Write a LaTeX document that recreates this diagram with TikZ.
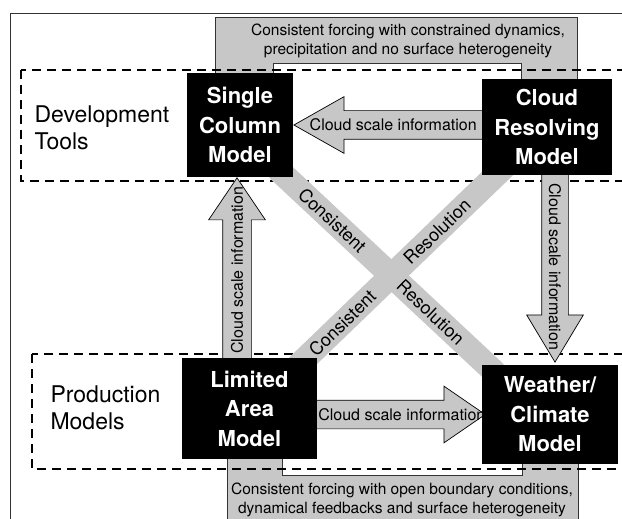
\documentclass[tikz,border=0pt]{standalone}
\usepackage{fontspec}
\setmainfont{TeX Gyre Heros}
\usetikzlibrary{shapes.arrows,calc,backgrounds}

\begin{document}
\begin{tikzpicture}[x=1pt,y=-1pt,
    model/.style={fill=black,text=white,align=center,inner sep=0pt,
        font=\fontsize{22}{29.5}\selectfont\bfseries},
    group/.style={draw=black,line width=1.8pt,dash pattern=on 9pt off 6pt},
    grouptext/.style={align=left,anchor=west,font=\fontsize{23}{27}\selectfont},
    forcing/.style={draw=black!80,fill=black!22,line width=0.7pt},
    note/.style={align=center,font=\fontsize{15.5}{19}\selectfont},
    band/.style={draw=black!22,line width=24pt,shorten <=-12pt,shorten >=-12pt},
    bandtext/.style={sloped,font=\fontsize{18}{18}\selectfont},
    fatarrow/.style={single arrow,draw=black,fill=black!22,line width=0.7pt,
        single arrow head extend=14pt,single arrow head indent=0pt,
        inner xsep=2pt,inner ysep=8.5pt,text height=11pt,text depth=0pt},
    arrowtext/.style={inner sep=0pt,font=\fontsize{16}{16}\selectfont}]

\useasboundingbox (0,0) rectangle (622,519);

% the four models
\node[model,minimum width=106pt,minimum height=104pt] (scm) at (240,125) {Single\\Column\\Model};
\node[model,minimum width=130pt,minimum height=96pt] (crm) at (547,127) {Cloud\\Resolving\\Model};
\node[model,minimum width=135pt,minimum height=101pt] (lam) at (249.5,408.5) {Limited\\Area\\Model};
\node[model,minimum width=136pt,minimum height=99pt] (wcm) at (550,414.5) {Weather/\\Climate\\Model};

\node[grouptext] (devtools) at (31,128) {Development\\Tools};
\node[grouptext] (prodmodels) at (47,408) {Production\\Models};

\begin{scope}[on background layer]
  \draw[black!80,line width=0.9pt] (10,13) rectangle (640,540);

  % forcing above and below
  \draw[forcing] ($(scm.north)+(-25,2)$) |- ($(crm.north)+(30,-61)$) -- ($(crm.north)+(30,6)$)
      -- ($(crm.north)+(-26,6)$) |- ($(scm.north)+(33,-9)$) -- ($(scm.north)+(33,2)$) -- cycle;
  \node[note] (topnote) at (408,41) {Consistent forcing with constrained dynamics,\\precipitation and no surface heterogeneity};
  \draw[forcing] ($(lam.south)+(-22.5,-4)$) |- ($(wcm.south)+(28,66)$) -- ($(wcm.south)+(28,-4)$)
      -- ($(wcm.south)+(-28,-4)$) |- ($(lam.south)+(32.5,16)$) -- ($(lam.south)+(32.5,-4)$) -- cycle;
  \node[note] (botnote) at (402,500) {Consistent forcing with open boundary conditions,\\dynamical feedbacks and surface heterogeneity};

  \draw[group] (21,70) rectangle (640,181);
  \draw[group] (32,354) rectangle (640,469);

  % consistent resolution
  \draw[band] ([xshift=-7pt]scm.south east) -- ([xshift=5pt]wcm.north west)
      node[bandtext,pos=0.23] {Consistent} node[bandtext,pos=0.72] {Resolution};
  \draw[band] ([xshift=14pt]crm.south west) -- ([xshift=-11pt]lam.north east)
      node[bandtext,pos=0.31] {Resolution} node[bandtext,pos=0.81] {Consistent};

  % cloud scale information
  \node[fatarrow,shape border rotate=180,single arrow tip angle=59,minimum height=200pt,anchor=tip]
      (crmtoscm) at (scm.east) {};
  \node[fatarrow,single arrow tip angle=69,minimum height=174pt,anchor=tip]
      (lamtowcm) at ([xshift=4pt]wcm.west) {};
  \node[fatarrow,rotate=-90,inner ysep=7.5pt,single arrow head extend=15pt,single arrow tip angle=62,
      minimum height=192pt,anchor=tip] (crmtowcm) at ([xshift=5pt,yshift=2pt]wcm.north) {};
  \node[fatarrow,rotate=90,single arrow tip angle=68,minimum height=186pt,anchor=tip]
      (lamtoscm) at ([xshift=-3pt]scm.south) {};
  \node[arrowtext] at ([xshift=100pt]crmtoscm.tip) {Cloud scale information};
  \node[arrowtext] at ([xshift=-84pt]lamtowcm.tip) {Cloud scale information};
  \node[arrowtext,rotate=-90] at ([yshift=96pt]crmtowcm.tip) {Cloud scale information};
  \node[arrowtext,rotate=90] at ([yshift=-93pt]lamtoscm.tip) {Cloud scale information};
\end{scope}
\end{tikzpicture}
\end{document}
